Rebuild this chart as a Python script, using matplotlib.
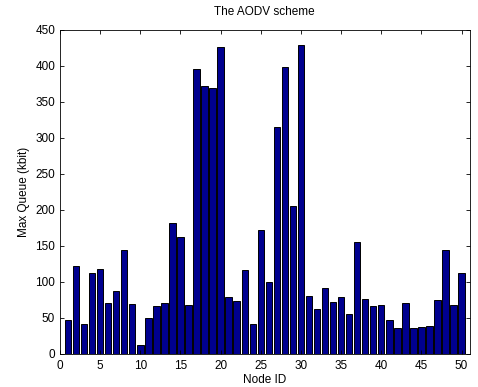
import numpy as np
import matplotlib
matplotlib.use("Agg")
import matplotlib.pyplot as plt

plt.rcParams['font.family'] = ['Liberation Sans', 'DejaVu Sans']

# node ids and max queue per node (kbit)
node_id = np.arange(1, 51)
max_queue = [47, 122, 42, 112, 118, 71, 88, 145, 70, 13,
             50, 67, 71, 182, 162, 68, 396, 372, 370, 426,
             79, 73, 116, 41, 172, 100, 315, 398, 205, 429,
             81, 63, 92, 72, 79, 55, 155, 77, 67, 68,
             47, 36, 71, 36, 38, 39, 75, 144, 68, 112]

fig = plt.figure(figsize=(4.78, 3.87), dpi=100)
ax = fig.add_axes([0.1255, 0.0853, 0.857, 0.8372])

ax.bar(node_id, max_queue, width=0.8, color='#00008F',
       edgecolor='black', linewidth=0.7)

ax.set_xlim(0, 51)
ax.set_ylim(0, 450)
ax.set_xticks(np.arange(0, 51, 5))
ax.set_yticks(np.arange(0, 451, 50))
ax.tick_params(direction='in', top=True, right=True, labelsize=8.5, length=3, width=0.6)
ax.tick_params(axis='x', pad=4)
for s in ax.spines.values():
    s.set_linewidth(0.6)

ax.set_xlabel("Node ID", fontsize=8.5, labelpad=1.5)
ax.set_ylabel("Max Queue (kbit)", fontsize=8.5, labelpad=4)
ax.set_title("The AODV scheme", fontsize=8.5, pad=11)

fig.savefig("out.png", dpi=100)
